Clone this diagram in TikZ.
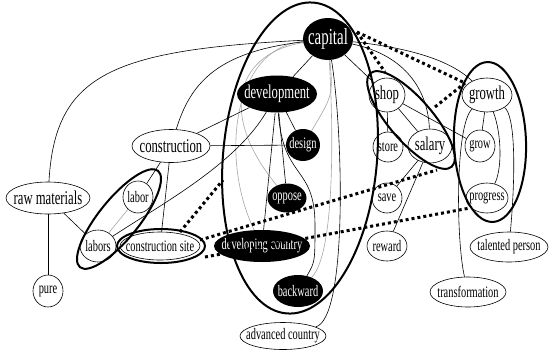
\documentclass[tikz,border=0pt]{standalone}
\usepackage{fontspec}
\newfontfamily\nf[FakeStretch=0.65]{Liberation Serif}
\usetikzlibrary{shapes.geometric,backgrounds}
\begin{document}
\begin{tikzpicture}[x=1pt,y=-1pt,
  sm/.style={font=\nf\fontsize{16}{16}\selectfont, inner sep=0pt},
  bg/.style={font=\nf\fontsize{19.5}{19.5}\selectfont, inner sep=0pt},
  cp/.style={font=\nf\fontsize{23}{23}\selectfont, inner sep=0pt},
  W/.style n args={3}{ellipse, draw, fill=white, line width=0.6pt, inner sep=0pt,
     minimum width=#1pt, minimum height=#2pt, label={[sm]center:#3}},
  WB/.style n args={3}{ellipse, draw, fill=white, line width=0.6pt, inner sep=0pt,
     minimum width=#1pt, minimum height=#2pt, label={[bg]center:#3}},
  B/.style n args={3}{ellipse, fill=black, inner sep=0pt,
     minimum width=#1pt, minimum height=#2pt, label={[sm,text=white]center:#3}},
  BB/.style n args={3}{ellipse, fill=black, inner sep=0pt,
     minimum width=#1pt, minimum height=#2pt, label={[bg,text=white]center:#3}},
  ed/.style={line width=0.6pt},
  gr/.style={line width=0.6pt, black!35},
  cl/.style={ellipse, draw, line width=2pt, inner sep=0pt},
  dt/.style={line width=3pt, dash pattern=on 3pt off 3pt}]

\useasboundingbox (0,0) rectangle (549,349);

% nodes
\node[B={50}{42}{}, label={[cp,text=white]center:capital}] (capital) at (328,39) {};
\node[BB={80}{37}{development}] (dev) at (277,94) {};
\node[B={34}{32}{design}] (design) at (303,145) {};
\node[B={39}{29}{oppose}] (oppose) at (287,198) {};
\node[B={96}{32}{developing country}] (devc) at (262,246) {};
\node[B={50}{32}{backward}] (backward) at (298,291) {};
\node[W={86}{27}{advanced country}] (advc) at (283,336) {};
\node[WB={78}{33}{construction}] (constr) at (171,146) {};
\node[WB={84}{32}{raw materials}] (raw) at (48,198) {};
\node[W={30}{32}{labor}] (labor) at (138,197) {};
\node[W={36}{32}{labors}] (labors) at (98,246) {};
\node[W={80}{28}{construction site}] (csite) at (160,246) {};
\node[W={30}{32}{pure}] (pure) at (48,291) {};
\node[WB={36}{34}{shop}] (shop) at (387,95) {};
\node[W={30}{30}{store}] (store) at (388,147) {};
\node[WB={44}{34}{salary}] (salary) at (430,146) {};
\node[WB={50}{34}{growth}] (growth) at (487,95) {};
\node[W={30}{32}{grow}] (grow) at (480,146) {};
\node[W={42}{30}{progress}] (progress) at (487,198) {};
\node[W={30}{30}{save}] (save) at (387,198) {};
\node[W={40}{30}{reward}] (reward) at (387,246) {};
\node[W={78}{30}{talented person}] (talented) at (509,247) {};
\node[W={76}{30}{transformation}] (transf) at (468,292) {};

\begin{pgfonlayer}{background}
% gray edges
\draw[gr] (capital) .. controls (240,52) and (215,110) .. (oppose);
\draw[gr] (capital) .. controls (232,48) and (220,160) .. (devc);
\draw[gr] (capital) .. controls (333,95) .. (design);
\draw[gr] (capital) .. controls (334,140) and (334,255) .. (backward);
\draw[gr] (labor) -- (labors);
% black edges
\draw[ed] (capital) .. controls (110,50) and (55,75) .. (raw);
\draw[ed] (capital) .. controls (215,52) and (190,85) .. (constr);
\draw[ed] (capital) -- (dev);
\draw[ed] (capital) -- (shop);
\draw[ed] (capital) .. controls (405,55) and (428,90) .. (salary);
\draw[ed] (capital) .. controls (410,48) and (450,60) .. (growth);
\draw[ed] (capital) .. controls (343,130) and (348,318) .. (advc);
\draw[ed] (dev) -- (constr);
\draw[ed] (constr) -- (design);
\draw[ed] (dev) -- (design);
\draw[ed] (dev) -- (oppose);
\draw[ed] (dev) -- (devc);
\draw[ed] (dev) .. controls (235,165) and (160,205) .. (labors);
\draw[ed] (dev) .. controls (283,180) and (315,165) .. (315,225) .. controls (315,262) .. (backward);
\draw[ed] (constr) -- (labor);
\draw[ed] (constr) -- (csite);
\draw[ed] (raw) -- (labors);
\draw[ed] (raw) -- (pure);
\draw[ed] (shop) -- (store);
\draw[ed] (shop) -- (salary);
\draw[ed] (shop) -- (grow);
\draw[ed] (salary) -- (save);
\draw[ed] (salary) -- (reward);
\draw[ed] (growth) -- (grow);
\draw[ed] (growth) .. controls (502,135) and (502,170) .. (progress);
\draw[ed] (growth) .. controls (515,115) and (516,170) .. (talented);
\draw[ed] (growth) .. controls (455,125) and (456,240) .. (transf);
\end{pgfonlayer}

% clusters
\node[cl, minimum width=154pt, minimum height=312pt, rotate=-5] (cDev) at (300,158) {};
\node[cl, minimum width=124pt, minimum height=43pt, rotate=-49] (cShop) at (411,120) {};
\node[cl, minimum width=72pt, minimum height=160pt, rotate=2] (cGrowth) at (490,142) {};
\node[cl, minimum width=124pt, minimum height=40pt, rotate=51] (cLabor) at (119,219) {};
\node[cl, minimum width=88pt, minimum height=34pt] (cSite) at (161,246) {};

% dotted connectors
\coordinate (d1a) at (357,32);
\coordinate (d1b) at (385,72);
\coordinate (d2b) at (465,83);
\coordinate (d3a) at (435,107);
\coordinate (d4a) at (200,240);
\coordinate (d4b) at (437,170);
\coordinate (d5a) at (180,232);
\coordinate (d5b) at (223,180);
\coordinate (d6a) at (205,257);
\coordinate (d6b) at (470,208);
\draw[dt] (d1a) -- (d1b);
\draw[dt] (d1a) -- (d2b);
\draw[dt] (d3a) -- (d2b);
\draw[dt] (d4a) -- (d4b);
\draw[dt] (d5a) -- (d5b);
\draw[dt] (d6a) -- (d6b);
\end{tikzpicture}
\end{document}
